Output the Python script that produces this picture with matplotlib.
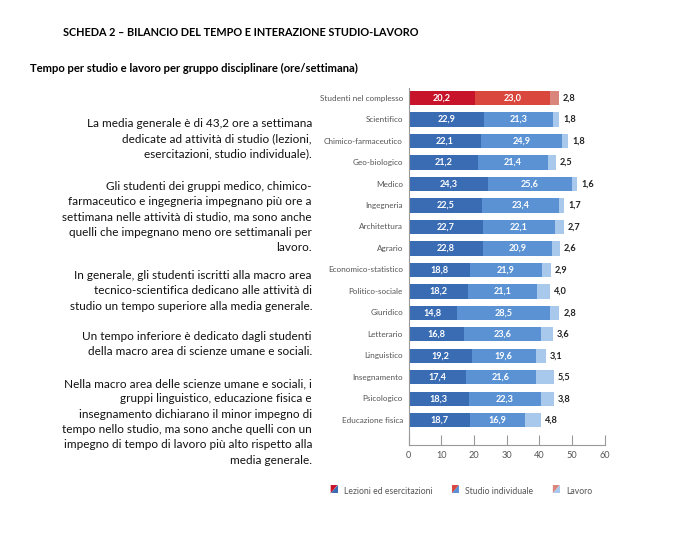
import numpy as np
import matplotlib
matplotlib.use("Agg")
import matplotlib.pyplot as plt
from matplotlib.patches import Polygon
from matplotlib.legend_handler import HandlerBase

plt.rcParams["font.family"] = ["Lato", "DejaVu Sans"]

# data (ore/settimana)
groups = ["Studenti nel complesso", "Scientifico", "Chimico-farmaceutico", "Geo-biologico",
          "Medico", "Ingegneria", "Architettura", "Agrario", "Economico-statistico",
          "Politico-sociale", "Giuridico", "Letterario", "Linguistico", "Insegnamento",
          "Psicologico", "Educazione fisica"]
lezioni = [20.2, 22.9, 22.1, 21.2, 24.3, 22.5, 22.7, 22.8, 18.8, 18.2, 14.8, 16.8, 19.2, 17.4, 18.3, 18.7]
studio = [23.0, 21.3, 24.9, 21.4, 25.6, 23.4, 22.1, 20.9, 21.9, 21.1, 28.5, 23.6, 19.6, 21.6, 22.3, 16.9]
lavoro = [2.8, 1.8, 1.8, 2.5, 1.6, 1.7, 2.7, 2.6, 2.9, 4.0, 2.8, 3.6, 3.1, 5.5, 3.8, 4.8]
series_names = ["Lezioni ed esercitazioni", "Studio individuale", "Lavoro"]

reds = ["#c8142b", "#d9473d", "#d9857c"]
blues = ["#3a6cb4", "#5a92d4", "#a8c8ec"]


def fmt(v):
    return f"{v:.1f}".replace(".", ",")


class SplitHandler(HandlerBase):
    def __init__(self, top, bottom):
        super().__init__()
        self.top, self.bottom = top, bottom

    def create_artists(self, legend, orig, xd, yd, w, h, fs, trans):
        x0, y0 = xd, yd
        a = Polygon([[x0, y0 + h], [x0 + w, y0 + h], [x0, y0]], closed=True,
                    fc=self.top, ec="none", transform=trans)
        b = Polygon([[x0 + w, y0 + h], [x0 + w, y0], [x0, y0]], closed=True,
                    fc=self.bottom, ec="none", transform=trans)
        return [a, b]


fig = plt.figure(figsize=(7, 5.43), dpi=100)
ax = fig.add_axes([0.584, 0.180, 0.28, 0.658])

y = np.arange(len(groups))
for i in range(len(groups)):
    cols = reds if i == 0 else blues
    left = 0
    for j, v in enumerate([lezioni[i], studio[i], lavoro[i]]):
        ax.barh(y[i], v, left=left, height=0.66, color=cols[j], linewidth=0)
        if j < 2:
            ax.text(left + v / 2, y[i], fmt(v), ha="center", va="center",
                    color="white", fontsize=6.6, fontweight="bold")
        else:
            ax.text(left + v + 1.2, y[i], fmt(v), ha="left", va="center",
                    color="#222222", fontsize=6.6, fontweight="bold")
        left += v
    ax.text(-1.8, y[i], groups[i], ha="right", va="center", fontsize=5.9, color="#555555")

ax.set_xlim(0, 60)
ax.set_ylim(16.16, -0.47)
ax.set_yticks([])
ax.set_xticks(range(0, 61, 10))
ax.tick_params(axis="x", direction="in", length=7, width=0.8, color="#999999",
               labelsize=6.6, labelcolor="#555555", pad=4)
for s in ["top", "right"]:
    ax.spines[s].set_visible(False)
for s in ["left", "bottom"]:
    ax.spines[s].set_color("#999999")
    ax.spines[s].set_linewidth(0.8)

# legend
keys = [object(), object(), object()]
handlers = {keys[k]: SplitHandler(reds[k], blues[k]) for k in range(3)}
fig.legend(keys, series_names, handler_map=handlers, loc="center",
           bbox_to_anchor=(0.659, 0.094), ncol=3, frameon=False, fontsize=6.2,
           handlelength=0.8, handleheight=1.1, handletextpad=0.7, columnspacing=2.3,
           labelcolor="#555555")

# titles
fig.text(63 / 700, 1 - 32 / 543, "SCHEDA 2 \u2013 BILANCIO DEL TEMPO E INTERAZIONE STUDIO-LAVORO",
         fontsize=7.8, fontweight="bold", va="center", ha="left")
fig.text(30 / 700, 1 - 68 / 543, "Tempo per studio e lavoro per gruppo disciplinare (ore/settimana)",
         fontsize=8.1, fontweight="bold", va="center", ha="left")

paragraphs = [
    (125, "La media generale è di 43,2 ore a settimana\ndedicate ad attività di studio (lezioni,\n"
          "esercitazioni, studio individuale)."),
    (188, "Gli studenti dei gruppi medico, chimico-\nfarmaceutico e ingegneria impegnano più ore a\n"
          "settimana nelle attività di studio, ma sono anche\nquelli che impegnano meno ore settimanali per\nlavoro."),
    (277, "In generale, gli studenti iscritti alla macro area\ntecnico-scientifica dedicano alle attività di\n"
          "studio un tempo superiore alla media generale."),
    (338, "Un tempo inferiore è dedicato dagli studenti\ndella macro area di scienze umane e sociali."),
    (385, "Nella macro area delle scienze umane e sociali, i\ngruppi linguistico, educazione fisica e\n"
          "insegnamento dichiarano il minor impegno di\ntempo nello studio, ma sono anche quelli con un\n"
          "impegno di tempo di lavoro più alto rispetto alla\nmedia generale."),
]
for ypix, txt in paragraphs:
    fig.text(312 / 700, 1 - (ypix - 7) / 543, txt, ha="right", va="top", multialignment="right",
             fontsize=8.5, linespacing=1.48, color="#111111")

fig.savefig("out.png", dpi=100)
